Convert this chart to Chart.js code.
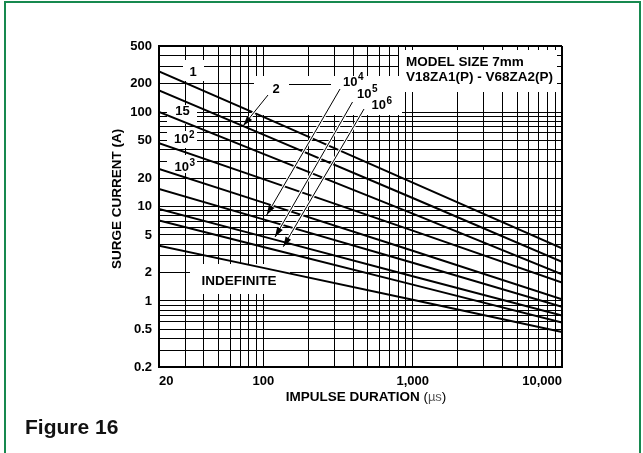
<!DOCTYPE html>
<html lang="en">
<head>
  <meta charset="UTF-8" />
  <title>Figure 16 - Surge current x impulse duration</title>
  <script src="https://cdn.jsdelivr.net/npm/chart.js"></script>
  <style>
    html, body {
      margin: 0;
      padding: 0;
      background: #fff;
    }

    body {
      position: relative;
      width: 643px;
      height: 453px;
      overflow: hidden;
      font-family: Arial, "Liberation Sans", sans-serif;
    }

    #moldura {
      position: absolute;
      left: 4px;
      top: 1px;
      width: 637px;
      height: 470px;
      border: 2px solid #17894f;
      border-bottom: none;
      box-sizing: border-box;
    }

    #grafico {
      position: absolute;
      left: 0;
      top: 0;
    }

    #figura {
      position: absolute;
      left: 25px;
      top: 415px;
      font-size: 21px;
      font-weight: bold;
      color: #111;
    }
  </style>
</head>
<body>
  <div id="moldura"></div>
  <canvas id="grafico" width="643" height="453"></canvas>
  <div id="figura">Figure 16</div>

  <script>
    // dados (duracao em us, corrente em A)
    const duracao = [20, 100, 1000, 10000];
    const curva1     = [269, 88.7, 17.9, 3.6];
    const curva2     = [169, 57.7, 12.3, 2.6];
    const curva15    = [100, 36.1, 8.4, 1.92];
    const curva1e2   = [46.8, 19.5, 5.55, 1.57];
    const curva1e3   = [25, 11.0, 3.4, 1.04];
    const curva1e4   = [15.3, 7.3, 2.54, 0.87];
    const curva1e5   = [9.4, 4.8, 1.83, 0.70];
    const curva1e6   = [7.1, 3.73, 1.49, 0.59];
    const curvaIndef = [3.84, 2.24, 1.03, 0.47];

    const ticksX = [20, 100, 1000, 10000];
    const ticksY = [0.2, 0.5, 1, 2, 5, 10, 20, 50, 100, 200, 500];

    const fonte = 'Arial, "Liberation Sans", sans-serif';

    // grade log com 1..9 em cada decada
    function gradeLog(min, max) {
      const vals = [];
      for (let p = -1; p <= 4; p++) {
        for (let m = 1; m <= 9; m++) {
          const v = Number((m * Math.pow(10, p)).toPrecision(2));
          if (v >= min && v <= max) vals.push(v);
        }
      }
      return vals;
    }

    function serie(valores) {
      return {
        data: duracao.map((x, i) => ({ x: x, y: valores[i] })),
        borderColor: '#000',
        borderWidth: 2,
        pointRadius: 0,
        fill: false,
        tension: 0
      };
    }

    // caixas brancas atras dos rotulos (pixels)
    const caixasBrancas = [
      [183, 60, 21, 21],    // "1"
      [167, 105, 30, 19],   // "15"
      [167, 131, 30, 17],   // "10^2"
      [167, 155, 30, 18],   // "10^3"
      [254, 76, 148, 39],   // "2" e 10^4..10^6
      [399, 50, 158, 42],   // model
      [190, 264, 100, 30]   // indefinite
    ];

    const setas = [
      [268, 95, 243.3, 125.7],
      [340, 89, 266.7, 215],
      [352.5, 102, 275, 237],
      [364, 109, 283.3, 246.7]
    ];

    function texto(ctx, s, x, y, tam, alinh) {
      ctx.font = 'bold ' + tam + 'px ' + fonte;
      ctx.textAlign = alinh || 'left';
      ctx.textBaseline = 'middle';
      ctx.fillText(s, x, y);
    }

    function potencia(ctx, exp, x, y) {
      ctx.font = 'bold 13px ' + fonte;
      ctx.textAlign = 'left';
      ctx.textBaseline = 'middle';
      const w = ctx.measureText('10').width;
      ctx.fillText('10', x, y);
      ctx.font = 'bold 10px ' + fonte;
      ctx.fillText(exp, x + w + 0.5, y - 4.5);
    }

    function seta(ctx, x1, y1, x2, y2) {
      const ang = Math.atan2(y2 - y1, x2 - x1);
      ctx.strokeStyle = '#fff';
      ctx.lineWidth = 3;
      ctx.beginPath();
      ctx.moveTo(x1, y1);
      ctx.lineTo(x2 - 6 * Math.cos(ang), y2 - 6 * Math.sin(ang));
      ctx.stroke();
      ctx.strokeStyle = '#000';
      ctx.lineWidth = 1;
      ctx.beginPath();
      ctx.moveTo(x1, y1);
      ctx.lineTo(x2, y2);
      ctx.stroke();
      ctx.beginPath();
      ctx.moveTo(x2, y2);
      ctx.lineTo(x2 - 10 * Math.cos(ang) + 3.2 * Math.sin(ang), y2 - 10 * Math.sin(ang) - 3.2 * Math.cos(ang));
      ctx.lineTo(x2 - 10 * Math.cos(ang) - 3.2 * Math.sin(ang), y2 - 10 * Math.sin(ang) + 3.2 * Math.cos(ang));
      ctx.closePath();
      ctx.fillStyle = '#000';
      ctx.fill();
    }

    const pluginRotulos = {
      id: 'rotulos',
      beforeDatasetsDraw(chart) {
        const ctx = chart.ctx;
        ctx.save();
        ctx.fillStyle = '#fff';
        caixasBrancas.forEach(c => ctx.fillRect(c[0], c[1], c[2], c[3]));
        // trecho da linha de 200 entre "2" e "10^4"
        const y200 = Math.round(chart.scales.y.getPixelForValue(200)) + 0.5;
        ctx.strokeStyle = '#000';
        ctx.lineWidth = 1;
        ctx.beginPath();
        ctx.moveTo(289, y200);
        ctx.lineTo(331, y200);
        ctx.stroke();
        ctx.restore();
      },
      afterDatasetsDraw(chart) {
        const ctx = chart.ctx;
        ctx.save();
        ctx.fillStyle = '#000';

        setas.forEach(s => seta(ctx, s[0], s[1], s[2], s[3]));

        texto(ctx, '1', 193, 72, 13, 'center');
        texto(ctx, '2', 276, 89, 13, 'center');
        texto(ctx, '15', 182.5, 111, 13, 'center');
        potencia(ctx, '2', 174, 139.5);
        potencia(ctx, '3', 174.5, 167.5);
        potencia(ctx, '4', 343, 82);
        potencia(ctx, '5', 357, 94);
        potencia(ctx, '6', 371.5, 105.5);
        texto(ctx, 'INDEFINITE', 239, 281, 13.5, 'center');
        texto(ctx, 'MODEL SIZE 7mm', 406, 62.5, 13.5);
        texto(ctx, 'V18ZA1(P) - V68ZA2(P)', 406, 77, 13.5);

        // titulo do eixo y
        ctx.save();
        ctx.translate(117, 199);
        ctx.rotate(-Math.PI / 2);
        texto(ctx, 'SURGE CURRENT (A)', 0, 0, 13.5, 'center');
        ctx.restore();

        // titulo do eixo x com (us) em fonte leve
        const partes = [
          ['bold 13.5px ', 'IMPULSE DURATION '],
          ['13.5px ', '('],
          ['300 13px ', '\u00b5s'],
          ['13.5px ', ')']
        ];
        let largura = 0;
        partes.forEach(p => { ctx.font = p[0] + fonte; largura += ctx.measureText(p[1]).width; });
        let xt = 366 - largura / 2;
        ctx.textAlign = 'left';
        ctx.textBaseline = 'middle';
        partes.forEach(p => {
          ctx.font = p[0] + fonte;
          ctx.fillStyle = p[1] === '\u00b5s' ? '#555' : '#000';
          ctx.fillText(p[1], xt, 397);
          xt += ctx.measureText(p[1]).width;
        });
        ctx.restore();
      }
    };

    const larguraGrade = ctx => {
      const s = ctx.scale;
      return (ctx.tick && (ctx.tick.value === s.max || ctx.tick.value === s.min)) ? 2 : 1;
    };

    new Chart(document.getElementById('grafico').getContext('2d'), {
      type: 'line',
      data: {
        datasets: [curva1, curva2, curva15, curva1e2, curva1e3, curva1e4, curva1e5, curva1e6, curvaIndef].map(serie)
      },
      options: {
        responsive: false,
        animation: false,
        devicePixelRatio: 1,
        layout: {
          padding: { left: 100, right: 81, top: 46, bottom: 56 }
        },
        plugins: {
          legend: { display: false },
          tooltip: { enabled: false }
        },
        scales: {
          x: {
            type: 'logarithmic',
            min: 20,
            max: 10000,
            afterBuildTicks: s => { s.ticks = gradeLog(s.min, s.max).map(v => ({ value: v })); },
            afterFit: s => { s.height = 30; },
            grid: { color: '#000', lineWidth: larguraGrade, drawTicks: false },
            border: { color: '#000', width: 2 },
            ticks: {
              autoSkip: false,
              maxRotation: 0,
              align: 'inner',
              padding: 7,
              color: '#000',
              font: { family: fonte, size: 13, weight: 'bold' },
              callback: v => ticksX.includes(v) ? v.toLocaleString('en-US') : ''
            }
          },
          y: {
            type: 'logarithmic',
            min: 0.2,
            max: 500,
            afterBuildTicks: s => { s.ticks = gradeLog(s.min, s.max).map(v => ({ value: v })); },
            afterFit: s => { s.width = 59; },
            grid: { color: '#000', lineWidth: larguraGrade, drawTicks: false },
            border: { color: '#000', width: 2 },
            ticks: {
              autoSkip: false,
              padding: 7,
              color: '#000',
              font: { family: fonte, size: 13, weight: 'bold' },
              callback: v => ticksY.includes(v) ? String(v) : ''
            }
          }
        }
      },
      plugins: [pluginRotulos]
    });
  </script>
</body>
</html>
